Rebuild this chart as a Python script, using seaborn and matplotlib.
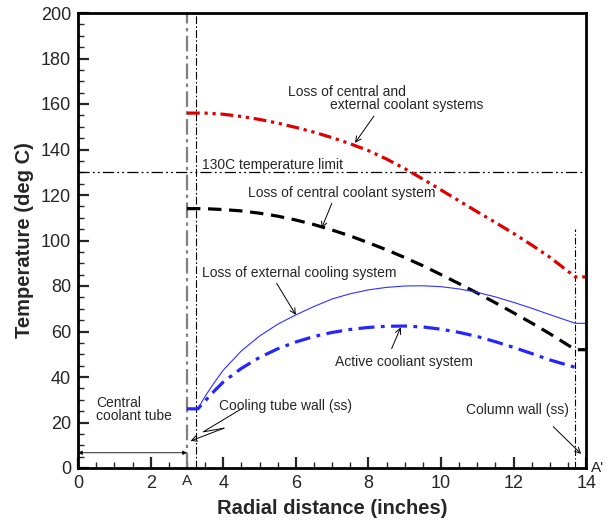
import matplotlib
matplotlib.use("Agg")
import matplotlib.pyplot as plt
import numpy as np
import seaborn as sns
from matplotlib.ticker import MultipleLocator

# radial positions (inches) and temperatures (deg C)
x_red = [3.0, 3.25, 3.5, 4, 4.5, 5, 5.5, 6, 6.5, 7, 7.5, 8, 8.5, 9, 9.5, 10,
         10.5, 11, 11.5, 12, 12.5, 13, 13.7, 14]
t_red = [156, 156, 156, 155.5, 154.5, 153.2, 151.6, 149.7, 147.6, 145.2, 142.5, 139.5,
         135.8, 131.6, 127, 122.2, 117.4, 112.6, 107.9, 103.1, 98, 92.6, 84, 84]

x_black = [3.0, 3.25, 3.5, 4, 4.5, 5, 5.5, 6, 6.5, 7, 7.5, 8, 8.5, 9, 9.5, 10,
           10.5, 11, 11.5, 12, 12.5, 13, 13.7, 14]
t_black = [114, 114, 114, 113.6, 113, 112, 110.7, 109, 107, 104.6, 102, 99,
           95.9, 92.5, 88.9, 85, 81, 76.9, 72.6, 68.2, 63.7, 59, 52, 52]

x_ext = [3.0, 3.3, 3.5, 3.75, 4, 4.5, 5, 5.5, 6, 6.5, 7, 7.5, 8, 8.5, 9, 9.5, 10,
         10.5, 11, 11.5, 12, 12.5, 13, 13.7, 14]
t_ext = [26, 26, 31.5, 37.5, 43, 51.5, 58, 63.2, 67.3, 71, 74.3, 76.6, 78.3, 79.4,
         80, 80.1, 79.7, 78.7, 77.2, 75.2, 72.8, 70.2, 67.4, 63.6, 63.6]

x_act = [3.0, 3.3, 3.5, 3.75, 4, 4.5, 5, 5.5, 6, 6.5, 7, 7.5, 8, 8.5, 9, 9.5, 10,
         10.5, 11, 11.5, 12, 12.5, 13, 13.75]
t_act = [26, 26, 29.5, 33.8, 37.8, 43.8, 48.6, 52.4, 55.4, 57.8, 59.6, 60.9, 61.8,
         62.3, 62.4, 62, 61, 59.6, 57.8, 55.5, 53, 50.3, 47.5, 44]

limit_temp = 130
tube_inner_x = 3.0
tube_outer_x = 3.25
column_wall_x = 13.7
column_wall_top = 105

sns.set_style("ticks")
plt.rcParams["font.family"] = ["Liberation Sans", "DejaVu Sans"]

fig, ax = plt.subplots(figsize=(6.1, 5.2), dpi=100)
fig.subplots_adjust(left=0.128, right=0.961, bottom=0.1, top=0.975)

# reference lines
ax.axhline(limit_temp, color="black", lw=0.9, linestyle=(0, (9, 2.5, 1.5, 2.5, 1.5, 2.5)), zorder=1)
ax.axvline(tube_inner_x, color="#808080", lw=1.6, linestyle=(0, (7, 2, 1.5, 2)), zorder=1)
ax.axvline(tube_outer_x, color="black", lw=0.8, linestyle=(0, (7, 2, 1.5, 2)), zorder=1)
ax.plot([column_wall_x, column_wall_x], [0, column_wall_top], color="black", lw=0.8,
        linestyle=(0, (6, 2, 1.2, 2)), zorder=1)

sns.lineplot(x=x_red, y=t_red, ax=ax, color="#dd0000", lw=2.3, sort=False,
             estimator=None, linestyle=(0, (4, 1.5, 1, 1.5, 1, 1.5)))
sns.lineplot(x=x_black, y=t_black, ax=ax, color="black", lw=2.3, sort=False,
             estimator=None, linestyle=(0, (4.2, 2.4)))
sns.lineplot(x=x_ext, y=t_ext, ax=ax, color="#3030ff", lw=0.8, sort=False,
             estimator=None)
sns.lineplot(x=x_act, y=t_act, ax=ax, color="#2525ff", lw=2.3, sort=False,
             estimator=None, linestyle=(0, (5, 2, 1.2, 2)))

ax.set_xlim(0, 14)
ax.set_ylim(0, 200)
ax.set_xticks(np.arange(0, 15, 2))
ax.set_yticks(np.arange(0, 201, 20))
ax.xaxis.set_minor_locator(MultipleLocator(0.5))
ax.yaxis.set_minor_locator(MultipleLocator(5))
ax.tick_params(which="major", direction="in", length=8, width=1.6, labelsize=13,
               top=False, right=False, pad=5)
ax.tick_params(which="minor", direction="in", length=4, width=1, top=False, right=False)
for sp in ax.spines.values():
    sp.set_linewidth(2)
    sp.set_color("black")

ax.set_xlabel("Radial distance (inches)", fontsize=14.5, fontweight="bold", labelpad=5)
ax.set_ylabel("Temperature (deg C)", fontsize=14.5, fontweight="bold", labelpad=5)

fs = 10
arrow = dict(arrowstyle="->", color="black", lw=0.7, shrinkA=0, shrinkB=0)

ax.text(5.79, 165.4, "Loss of central and", fontsize=fs, va="center")
ax.text(6.94, 159.6, "external coolant systems", fontsize=fs, va="center")
ax.annotate("", xy=(7.63, 142.9), xytext=(8.15, 154.7), arrowprops=arrow)

ax.text(3.41, 133.4, "130C temperature limit", fontsize=fs, va="center")

ax.text(4.69, 120.7, "Loss of central coolant system", fontsize=fs, va="center")
ax.annotate("", xy=(6.71, 105.4), xytext=(6.99, 116.3), arrowprops=arrow)

ax.text(3.41, 85.6, "Loss of external cooling system", fontsize=fs, va="center")
ax.annotate("", xy=(6.0, 67.3), xytext=(5.47, 81.2), arrowprops=arrow)

ax.text(7.08, 46.6, "Active cooliant system", fontsize=fs, va="center")
ax.annotate("", xy=(8.89, 61.8), xytext=(8.64, 52.5), arrowprops=arrow)

ax.text(0.5, 28.7, "Central", fontsize=fs, va="center")
ax.text(0.5, 22.9, "coolant tube", fontsize=fs, va="center")

ax.text(3.89, 27.3, "Cooling tube wall (ss)", fontsize=fs, va="center")
zig_x = [4.52, 3.45, 4.02]
zig_y = [26.2, 15.9, 17.5]
ax.plot(zig_x, zig_y, color="black", lw=0.7)
ax.annotate("", xy=(3.10, 11.9), xytext=(zig_x[-1], zig_y[-1]), arrowprops=arrow)

ax.text(10.69, 25.5, "Column wall (ss)", fontsize=fs, va="center")
ax.annotate("", xy=(13.86, 6.2), xytext=(13.09, 18.2), arrowprops=arrow)

ax.annotate("", xy=(0, 6.7), xytext=(tube_inner_x, 6.7),
            arrowprops=dict(arrowstyle="<|-|>", color="black", lw=0.6,
                            mutation_scale=6, shrinkA=0, shrinkB=0))

ax.text(tube_inner_x, -2.5, "A", fontsize=11, ha="center", va="top")
ax.text(14.12, 0, "A'", fontsize=11, ha="left", va="center", clip_on=False)

fig.savefig("out.png", dpi=100)
